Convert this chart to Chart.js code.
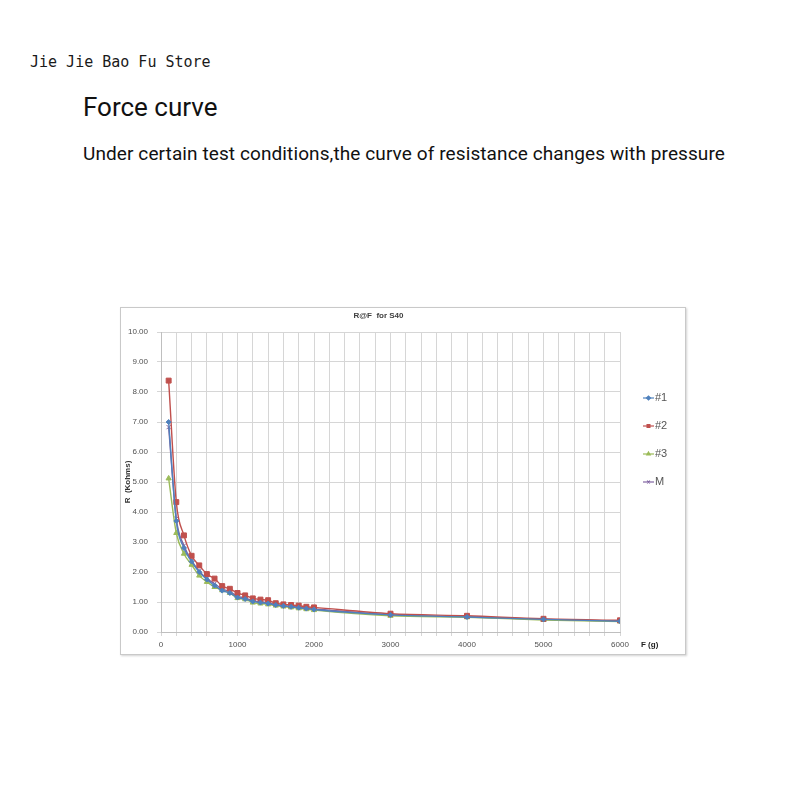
<!DOCTYPE html>
<html>
<head>
<meta charset="utf-8">
<script src="https://cdn.jsdelivr.net/npm/chart.js@4"></script>
<style>
  body { margin: 0; background: #fff; width: 800px; height: 800px; position: relative; overflow: hidden; }
  .store { position: absolute; left: 30px; top: 52px; font: 15px/20px "DejaVu Sans Mono", monospace; color: #1a1a1a; }
  .head { position: absolute; left: 83px; top: 92px; font: 26px/30px Roboto, sans-serif; color: #111; }
  .sub { position: absolute; left: 83px; top: 142px; font: 19px/24px Roboto, sans-serif; color: #111; letter-spacing: 0.1px; }
  .box { position: absolute; left: 120px; top: 307px; width: 566px; height: 348px; border: 1px solid #c9c9c9; box-sizing: border-box; box-shadow: 1px 1px 2px rgba(0,0,0,0.18); }
  #rf-chart { position: absolute; left: 0; top: 0; }
</style>
</head>
<body>
<div class="store">Jie Jie Bao Fu Store</div>
<div class="head">Force curve</div>
<div class="sub">Under certain test conditions,the curve of resistance changes with pressure</div>
<div class="box"><canvas id="rf-chart" width="564" height="346"></canvas></div>
<script>
// force (g) and resistance (Kohms)
const forces = [100, 200, 300, 400, 500, 600, 700, 800, 900, 1000, 1100, 1200, 1300, 1400, 1500,
                1600, 1700, 1800, 1900, 2000, 3000, 4000, 5000, 6000];
const r1 = [7.00, 3.70, 2.80, 2.35, 2.00, 1.75, 1.55, 1.38, 1.30, 1.15, 1.10, 1.02, 0.98, 0.95, 0.90,
            0.87, 0.84, 0.81, 0.78, 0.75, 0.57, 0.50, 0.42, 0.36];
const r2 = [8.38, 4.33, 3.22, 2.54, 2.22, 1.93, 1.78, 1.53, 1.44, 1.30, 1.22, 1.12, 1.08, 1.06, 0.96,
            0.92, 0.90, 0.88, 0.84, 0.82, 0.61, 0.54, 0.44, 0.39];
const r3 = [5.12, 3.30, 2.61, 2.24, 1.88, 1.67, 1.50, 1.39, 1.30, 1.13, 1.09, 0.98, 0.95, 0.92, 0.88,
            0.85, 0.82, 0.79, 0.76, 0.73, 0.54, 0.49, 0.40, 0.35];
const rM = [6.83, 3.78, 2.88, 2.38, 2.03, 1.78, 1.61, 1.43, 1.35, 1.19, 1.14, 1.04, 1.00, 0.98, 0.91,
            0.88, 0.85, 0.83, 0.79, 0.77, 0.57, 0.51, 0.42, 0.37];
const seriesNames = ['#1', '#2', '#3', 'M'];
const chartTitle = 'R@F  for S40';
const xTitle = 'F (g)';
const yTitle = 'R  (Kohms)';

const seriesData = [r1, r2, r3, rM];
const colors = ['#4f81bd', '#c0504d', '#9bbb59', '#8064a2'];
const markers = ['rectRot', 'rect', 'triangle', 'crossRot'];
const markerSize = [2.5, 3.5, 3, 3];

const datasets = seriesData.map((vals, k) => ({
    label: seriesNames[k],
    data: forces.map((f, i) => ({ x: f, y: vals[i] })),
    borderColor: colors[k],
    backgroundColor: colors[k],
    borderWidth: 1.4,
    pointStyle: markers[k],
    pointRadius: markerSize[k],
    pointBorderWidth: 1,
    cubicInterpolationMode: 'monotone',
    fill: false
}));

// title, legend and axis label drawn like the excel chart
const extras = {
    id: 'extras',
    afterDraw(chart) {
        const c = chart.ctx;
        const a = chart.chartArea;
        c.save();
        c.fillStyle = '#404040';
        c.font = 'bold 8px "Liberation Sans", sans-serif';
        c.textAlign = 'center';
        c.textBaseline = 'middle';
        c.fillText(chartTitle, (a.left + a.right) / 2 - 12, 8);

        c.fillStyle = '#222';
        c.textAlign = 'left';
        c.fillText(xTitle, a.right + 21, a.bottom + 13);

        chart.data.datasets.forEach((ds, i) => {
            const x = a.right + 23;
            const y = a.top + 66 + i * 28;
            c.strokeStyle = ds.borderColor;
            c.fillStyle = ds.borderColor;
            c.lineWidth = 1.2;
            c.beginPath();
            c.moveTo(x, y);
            c.lineTo(x + 11, y);
            c.stroke();
            Chart.helpers.drawPoint(c, {
                pointStyle: ds.pointStyle, radius: 2, rotation: 0, borderWidth: 1
            }, x + 5.5, y);
            c.fillStyle = '#555';
            c.font = '11px "Liberation Sans", sans-serif';
            c.textAlign = 'left';
            c.fillText(ds.label, x + 12, y);
        });
        c.restore();
    }
};

new Chart(document.getElementById('rf-chart').getContext('2d'), {
    type: 'line',
    data: { datasets: datasets },
    options: {
        responsive: false,
        animation: false,
        layout: { padding: { top: 24, right: 65, bottom: 0, left: 0 } },
        plugins: {
            legend: { display: false },
            title: { display: false },
            tooltip: { enabled: false }
        },
        scales: {
            x: {
                type: 'linear',
                min: 0,
                max: 6000,
                afterFit(scale) { scale.height = 22; },
                grid: { color: '#d6d6d6', tickLength: 4 },
                border: { color: '#bfbfbf' },
                ticks: {
                    stepSize: 200,
                    autoSkip: false,
                    maxRotation: 0,
                    padding: 4,
                    color: '#505050',
                    font: { family: '"Liberation Sans", sans-serif', size: 8 },
                    callback: v => (v % 1000 === 0 ? v : '')
                }
            },
            y: {
                min: 0,
                max: 10,
                afterFit(scale) { scale.width = 40; },
                grid: { color: '#d6d6d6', tickLength: 4 },
                border: { color: '#bfbfbf' },
                title: {
                    display: true,
                    text: yTitle,
                    color: '#333',
                    padding: { top: 2, bottom: 0 },
                    font: { family: '"Liberation Sans", sans-serif', size: 8, weight: 'bold' }
                },
                ticks: {
                    stepSize: 1,
                    padding: 9,
                    color: '#505050',
                    font: { family: '"Liberation Sans", sans-serif', size: 8 },
                    callback: v => v.toFixed(2)
                }
            }
        }
    },
    plugins: [extras]
});
</script>
</body>
</html>
